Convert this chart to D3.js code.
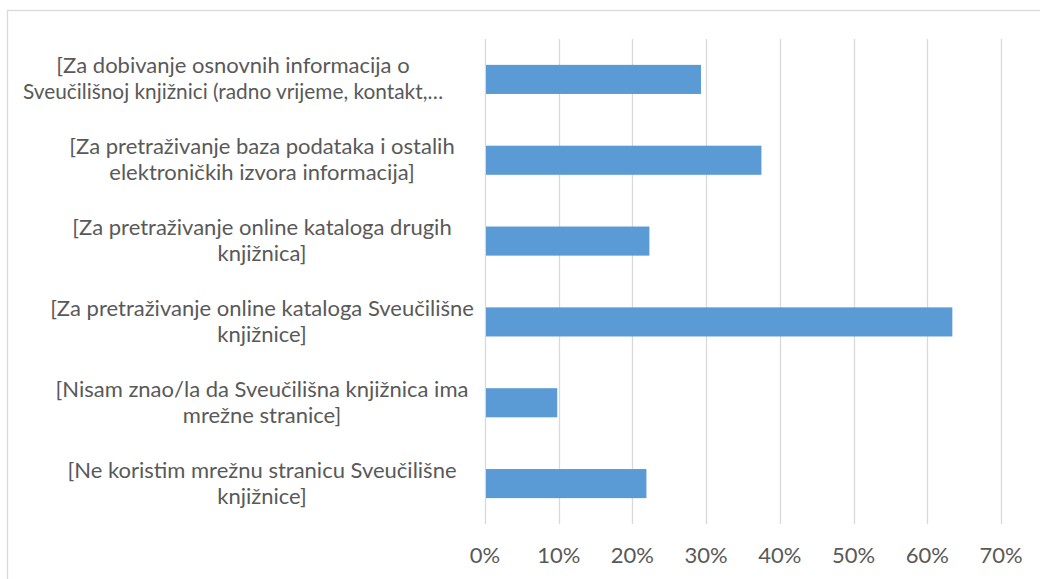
<!DOCTYPE html>
<html>
<head>
<meta charset="utf-8">
<script src="https://cdnjs.cloudflare.com/ajax/libs/d3/7.8.5/d3.min.js"></script>
<style>
  body { margin: 0; background: #fff; }
  svg { display: block; }
  .cat-label, .tick-label {
    font-family: Lato, "Open Sans", sans-serif;
    fill: #595959;
  }
  .grid line { stroke: #d9d9d9; stroke-width: 1.3; }
</style>
</head>
<body>
<svg id="chart" width="1040" height="579"></svg>
<script>
// categories, top to bottom; each one is split into its wrapped lines
var categories = [
  ["[Za dobivanje osnovnih informacija o", "Sveučilišnoj knjižnici (radno vrijeme, kontakt,…"],
  ["[Za pretraživanje baza podataka i ostalih", "elektroničkih izvora informacija]"],
  ["[Za pretraživanje online kataloga drugih", "knjižnica]"],
  ["[Za pretraživanje online kataloga Sveučilišne", "knjižnice]"],
  ["[Nisam znao/la da Sveučilišna knjižnica ima", "mrežne stranice]"],
  ["[Ne koristim mrežnu stranicu Sveučilišne", "knjižnice]"]
]
var values = [0.293, 0.375, 0.223, 0.634, 0.098, 0.219]
var ticks = [0, 0.1, 0.2, 0.3, 0.4, 0.5, 0.6, 0.7]

var svg = d3.select('#chart')

// outer chart frame (only top and left edge show in the picture)
svg.append('rect')
  .attr('x', 7.5).attr('y', 10.5)
  .attr('width', 1100).attr('height', 700)
  .attr('fill', 'none')
  .attr('stroke', '#d9d9d9')
  .attr('stroke-width', 1.3)

var x = d3.scaleLinear().domain([0, 0.7]).range([485, 1001])
var y = d3.scaleBand()
  .domain(d3.range(categories.length))
  .range([39, 524])
  .paddingInner(0.64)
  .paddingOuter(0.32)

// vertical gridlines
svg.append('g').attr('class', 'grid')
  .selectAll('line')
  .data(ticks)
  .enter().append('line')
  .attr('x1', function(d) { return Math.round(x(d)) + 0.5 })
  .attr('x2', function(d) { return Math.round(x(d)) + 0.5 })
  .attr('y1', 39)
  .attr('y2', 524)

// bars
svg.append('g')
  .selectAll('rect')
  .data(values)
  .enter().append('rect')
  .attr('x', x(0) + 1)
  .attr('y', function(d, i) { return y(i) })
  .attr('width', function(d) { return x(d) - x(0) - 1 })
  .attr('height', y.bandwidth())
  .attr('fill', '#5b9bd5')

// x tick labels
svg.append('g')
  .selectAll('text')
  .data(ticks)
  .enter().append('text')
  .attr('class', 'tick-label')
  .attr('x', function(d) { return x(d) })
  .attr('y', 563)
  .attr('text-anchor', 'middle')
  .style('font-size', '22px')
  .text(d3.format('.0%'))

// category labels, wrapped on two centred lines
var labelCenter = 262
var lineHeight = 26
var maxLine = 420   // a truncated label (ends with …) is squeezed to this width
svg.append('g')
  .selectAll('text')
  .data(categories)
  .enter().append('text')
  .attr('class', 'cat-label')
  .attr('text-anchor', 'middle')
  .style('font-size', '22px')
  .each(function(lines, i) {
    var cy = y(i) + y.bandwidth() / 2
    var t = d3.select(this)
    var truncated = lines[lines.length - 1].slice(-1) === '…'
    lines.forEach(function(line, k) {
      var s = t.append('tspan')
        .attr('x', truncated ? 233 : labelCenter)
        .attr('y', cy + (k - (lines.length - 1) / 2) * lineHeight + 7)
        .text(line)
      if (truncated && s.node().getComputedTextLength() > maxLine) {
        s.attr('textLength', maxLine).attr('lengthAdjust', 'spacingAndGlyphs')
      }
    })
  })
</script>
</body>
</html>
